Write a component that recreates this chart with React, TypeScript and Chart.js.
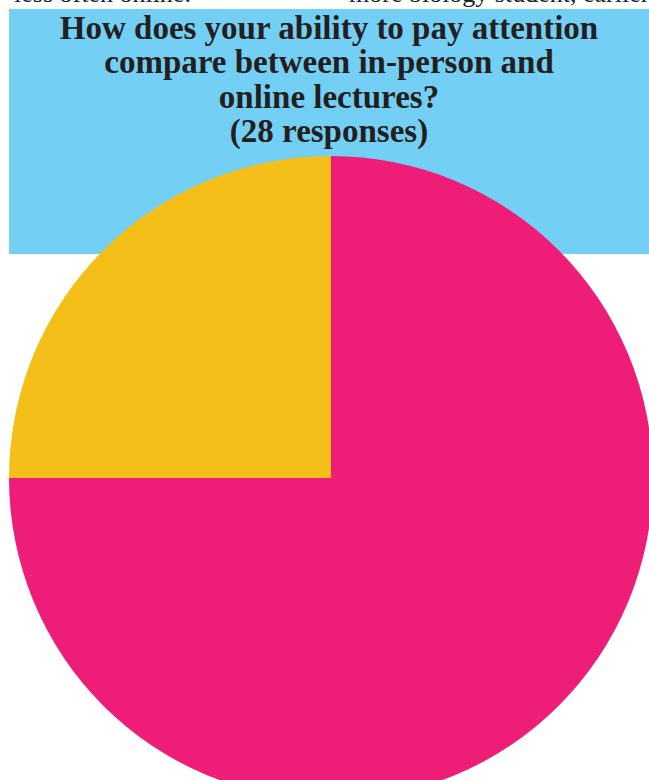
import React, { useEffect, useRef } from "react";
import { Chart, registerables } from "chart.js";

Chart.register(...registerables);

const titleLines = [
  "How does your ability to pay attention",
  "compare between in-person and",
  "online lectures?",
  "(28 responses)",
];
const categories = ["Worse online", "About the same"];
const responses = [21, 7];
const sliceColors = ["#EE1D78", "#F4BF18"];

export default function App() {
  const ref = useRef<HTMLCanvasElement | null>(null);

  useEffect(() => {
    if (!ref.current) return;
    const chart = new Chart(ref.current, {
      type: "pie",
      data: {
        labels: categories,
        datasets: [
          {
            data: responses,
            backgroundColor: sliceColors,
            borderWidth: 0,
          },
        ],
      },
      options: {
        animation: false,
        responsive: false,
        layout: { padding: 0 },
        plugins: {
          legend: { display: false },
          tooltip: { enabled: false },
          title: { display: false },
        },
      },
    });
    return () => chart.destroy();
  }, []);

  const topText: React.CSSProperties = {
    position: "absolute",
    top: -19,
    fontFamily: "'Liberation Serif', serif",
    fontSize: 26,
    lineHeight: "26px",
    whiteSpace: "nowrap",
    color: "#222",
  };

  return (
    <div
      style={{
        position: "fixed",
        left: 0,
        top: 0,
        width: 649,
        height: 780,
        overflow: "hidden",
        background: "#fff",
      }}
    >
      <div style={{ ...topText, left: 14 }}>less often online.</div>
      <div style={{ ...topText, left: 349 }}>more biology student, earlier</div>
      <div
        style={{
          position: "absolute",
          left: 9,
          top: 9,
          width: 640,
          height: 245,
          background: "#74CFF5",
        }}
      />
      <div
        style={{
          position: "absolute",
          left: 9,
          top: 10.5,
          width: 640,
          textAlign: "center",
          fontFamily: "'Liberation Serif', serif",
          fontWeight: "bold",
          fontSize: 33,
          lineHeight: "34.5px",
          color: "#231F20",
        }}
      >
        {titleLines.map((l, i) => (
          <div key={i}>{l}</div>
        ))}
      </div>
      <canvas
        ref={ref}
        width={644}
        height={644}
        style={{
          position: "absolute",
          left: 9,
          top: 156,
          width: 644,
          height: 644,
        }}
      />
    </div>
  );
}
